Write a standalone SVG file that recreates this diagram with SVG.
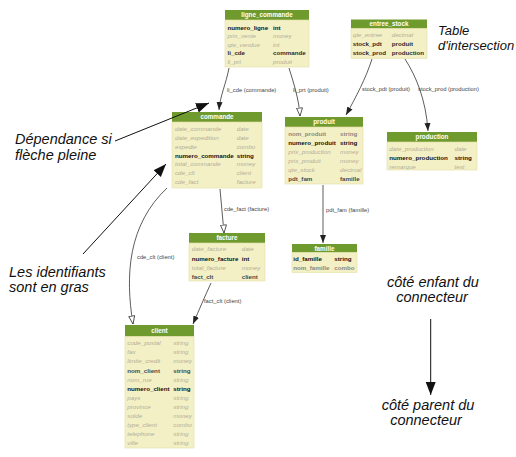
<svg xmlns="http://www.w3.org/2000/svg" width="516" height="457" viewBox="0 0 516 457">
<style>
text{font-family:"Liberation Sans",Arial,sans-serif}
.hd{fill:#6f9b2e}
.bd{fill:#f4f0c6;stroke:#e4dea6;stroke-width:0.6}
.ht{font-size:6.3px;font-weight:bold;fill:#fff;text-anchor:middle}
.r{font-size:6.2px}
.pk{font-weight:bold;fill:#111}
.fk{font-weight:bold;fill:#2a2a2a}
.fg{font-weight:bold;fill:#4a4a44}
.rq{font-weight:bold;fill:#8a887c}
.op{font-style:italic;fill:#b3ae96}
.lb{font-size:5.8px;fill:#444}
.cn{fill:none;stroke:#333;stroke-width:0.8}
.an{fill:none;stroke:#111;stroke-width:1}
.at{font-size:14.5px;font-style:italic;fill:#111}
</style>
<defs>
<marker id="af" markerUnits="userSpaceOnUse" markerWidth="9" markerHeight="7" refX="8" refY="3.5" orient="auto"><path d="M0,0.5 L8,3.5 L0,6.5 z" fill="#222"/></marker>
<marker id="ah" markerUnits="userSpaceOnUse" markerWidth="10" markerHeight="8" refX="8.5" refY="4" orient="auto"><path d="M0.5,1 L8.5,4 L0.5,7 z" fill="#fff" stroke="#333" stroke-width="0.8"/></marker>
<marker id="ab" markerUnits="userSpaceOnUse" markerWidth="14" markerHeight="11" refX="13" refY="5.5" orient="auto"><path d="M0,0.5 L13,5.5 L0,10.5 z" fill="#111"/></marker>
</defs>

<g id="connectors">
<path class="cn" d="M229,68 C226,84 220,96 219,110" marker-end="url(#af)"/>
<text class="lb" x="227" y="91.5">li_cde (commande)</text>
<path class="cn" d="M289,68 C294,84 299,100 300,116" marker-end="url(#ah)"/>
<text class="lb" x="293" y="91.5">li_prt (produit)</text>
<path class="cn" d="M372,59 C366,78 356,97 346,115" marker-end="url(#af)"/>
<text class="lb" x="362" y="90.5">stock_pdt (produit)</text>
<path class="cn" d="M405,59 C416,76 426,100 428,131" marker-end="url(#af)"/>
<text class="lb" x="418" y="90.5">stock_prod (production)</text>
<path class="cn" d="M220,189 C221,204 223,218 224,233" marker-end="url(#ah)"/>
<text class="lb" x="224" y="211">cde_fact (facture)</text>
<path class="cn" d="M167,188 C128,225 125,275 133,324" marker-end="url(#ah)"/>
<text class="lb" x="137" y="259">cde_clt (client)</text>
<path class="cn" d="M323,185 L323,243" marker-end="url(#af)"/>
<text class="lb" x="326" y="212">pdt_fam (famille)</text>
<path class="cn" d="M211,283 C205,296 199,310 193,324" marker-end="url(#af)"/>
<text class="lb" x="204" y="303">fact_clt (client)</text>
</g>

<g id="ligne_commande">
<rect class="hd" x="225" y="10" width="84" height="10"/>
<rect class="bd" x="225" y="20" width="84" height="47"/>
<text class="ht" x="267" y="17.3">ligne_commande</text>
<text class="r pk" x="227.5" y="29.9">numero_ligne</text><text class="r pk" x="273" y="29.9">int</text>
<text class="r op" x="227.5" y="38.4">prix_vente</text><text class="r op" x="273" y="38.4">money</text>
<text class="r op" x="227.5" y="46.9">qte_vendue</text><text class="r op" x="273" y="46.9">int</text>
<text class="r fk" x="227.5" y="55.4">li_cde</text><text class="r fk" x="273" y="55.4">commande</text>
<text class="r op" x="227.5" y="63.9">li_prt</text><text class="r op" x="273" y="63.9">produit</text>
</g>

<g id="entree_stock">
<rect class="hd" x="351" y="19.5" width="76" height="9"/>
<rect class="bd" x="351" y="28.5" width="76" height="30"/>
<text class="ht" x="389" y="26.3">entree_stock</text>
<text class="r op" x="352.7" y="36.7">qte_entree</text><text class="r op" x="391.7" y="36.7">decimal</text>
<text class="r fk" x="352.7" y="46">stock_pdt</text><text class="r fk" x="391.7" y="46">produit</text>
<text class="r fk" x="352.7" y="55.2">stock_prod</text><text class="r fk" x="391.7" y="55.2">production</text>
</g>

<g id="commande">
<rect class="hd" x="172" y="112" width="90" height="10"/>
<rect class="bd" x="172" y="122" width="90" height="66"/>
<text class="ht" x="217" y="119.3">commande</text>
<text class="r op" x="175" y="131.2">date_commande</text><text class="r op" x="236.7" y="131.2">date</text>
<text class="r op" x="175" y="140">date_expedition</text><text class="r op" x="236.7" y="140">date</text>
<text class="r op" x="175" y="148.8">expedie</text><text class="r op" x="236.7" y="148.8">combo</text>
<text class="r pk" x="175" y="157.6">numero_commande</text><text class="r pk" x="236.7" y="157.6">string</text>
<text class="r op" x="175" y="166.4">total_commande</text><text class="r op" x="236.7" y="166.4">money</text>
<text class="r op" x="175" y="175.2">cde_clt</text><text class="r op" x="236.7" y="175.2">client</text>
<text class="r op" x="175" y="184">cde_fact</text><text class="r op" x="236.7" y="184">facture</text>
</g>

<g id="produit">
<rect class="hd" x="285" y="117" width="78" height="10"/>
<rect class="bd" x="285" y="127" width="78" height="57"/>
<text class="ht" x="324" y="124.3">produit</text>
<text class="r rq" x="288.3" y="136.2">nom_produit</text><text class="r rq" x="340" y="136.2">string</text>
<text class="r pk" x="288.3" y="145.2">numero_produit</text><text class="r pk" x="340" y="145.2">string</text>
<text class="r op" x="288.3" y="154.2">prix_production</text><text class="r op" x="340" y="154.2">money</text>
<text class="r op" x="288.3" y="163.2">prix_produit</text><text class="r op" x="340" y="163.2">money</text>
<text class="r op" x="288.3" y="172.2">qte_stock</text><text class="r op" x="340" y="172.2">decimal</text>
<text class="r fg" x="288.3" y="181.2">pdt_fam</text><text class="r fg" x="340" y="181.2">famille</text>
</g>

<g id="production">
<rect class="hd" x="387" y="132" width="90" height="10"/>
<rect class="bd" x="387" y="142" width="90" height="28"/>
<text class="ht" x="432" y="139.3">production</text>
<text class="r op" x="389.3" y="151.2">date_production</text><text class="r op" x="454.5" y="151.2">date</text>
<text class="r pk" x="389.3" y="160">numero_production</text><text class="r pk" x="454.5" y="160">string</text>
<text class="r op" x="389.3" y="168.6">remarque</text><text class="r op" x="454.5" y="168.6">text</text>
</g>

<g id="facture">
<rect class="hd" x="189" y="233" width="76" height="10"/>
<rect class="bd" x="189" y="243" width="76" height="38"/>
<text class="ht" x="227" y="240.3">facture</text>
<text class="r op" x="191.7" y="251.2">date_facture</text><text class="r op" x="241.7" y="251.2">date</text>
<text class="r pk" x="191.7" y="260.5">numero_facture</text><text class="r pk" x="241.7" y="260.5">int</text>
<text class="r op" x="191.7" y="269.8">total_facture</text><text class="r op" x="241.7" y="269.8">money</text>
<text class="r fg" x="191.7" y="279.1">fact_clt</text><text class="r fg" x="241.7" y="279.1">client</text>
</g>

<g id="client">
<rect class="hd" x="125" y="325" width="69" height="11.5"/>
<rect class="bd" x="125" y="336.5" width="69" height="111.5"/>
<text class="ht" x="159.5" y="333">client</text>
<text class="r op" x="127.3" y="345.2">code_postal</text><text class="r op" x="173.3" y="345.2">string</text>
<text class="r op" x="127.3" y="354.3">fax</text><text class="r op" x="173.3" y="354.3">string</text>
<text class="r op" x="127.3" y="363.4">limite_credit</text><text class="r op" x="173.3" y="363.4">money</text>
<text class="r fg" x="127.3" y="372.5">nom_client</text><text class="r fg" x="173.3" y="372.5">string</text>
<text class="r op" x="127.3" y="381.6">nom_rue</text><text class="r op" x="173.3" y="381.6">string</text>
<text class="r pk" x="127.3" y="390.7">numero_client</text><text class="r pk" x="173.3" y="390.7">string</text>
<text class="r op" x="127.3" y="399.8">pays</text><text class="r op" x="173.3" y="399.8">string</text>
<text class="r op" x="127.3" y="408.9">province</text><text class="r op" x="173.3" y="408.9">string</text>
<text class="r op" x="127.3" y="418">solde</text><text class="r op" x="173.3" y="418">money</text>
<text class="r op" x="127.3" y="427.1">type_client</text><text class="r op" x="173.3" y="427.1">combo</text>
<text class="r op" x="127.3" y="436.2">telephone</text><text class="r op" x="173.3" y="436.2">string</text>
<text class="r op" x="127.3" y="445.3">ville</text><text class="r op" x="173.3" y="445.3">string</text>
</g>

<g id="famille">
<rect class="hd" x="292" y="244" width="65" height="8.5"/>
<rect class="bd" x="292" y="252.5" width="65" height="20"/>
<text class="ht" x="324.5" y="250.6">famille</text>
<text class="r pk" x="293.3" y="261.2">id_famille</text><text class="r pk" x="334.3" y="261.2">string</text>
<text class="r rq" x="293.3" y="270.2">nom_famille</text><text class="r rq" x="334.3" y="270.2">combo</text>
</g>

<g id="annotations">
<text class="at" style="font-size:13px" x="438" y="35">Table</text>
<text class="at" style="font-size:13px" x="438" y="50">d'intersection</text>
<text class="at" x="15" y="144">Dépendance si</text>
<text class="at" x="15" y="160">flèche pleine</text>
<path class="an" d="M115,141 L209,103" marker-end="url(#ab)"/>
<text class="at" x="9" y="277">Les identifiants</text>
<text class="at" x="9" y="292">sont en gras</text>
<path class="an" d="M83,254 L166,164" marker-end="url(#ab)"/>
<text class="at" x="433" y="287" text-anchor="middle">côté enfant du</text>
<text class="at" x="432" y="302" text-anchor="middle">connecteur</text>
<path class="an" d="M430.7,319 L430.7,395" marker-end="url(#ab)"/>
<text class="at" x="428" y="410" text-anchor="middle">côté parent du</text>
<text class="at" x="426" y="425" text-anchor="middle">connecteur</text>
</g>
</svg>
